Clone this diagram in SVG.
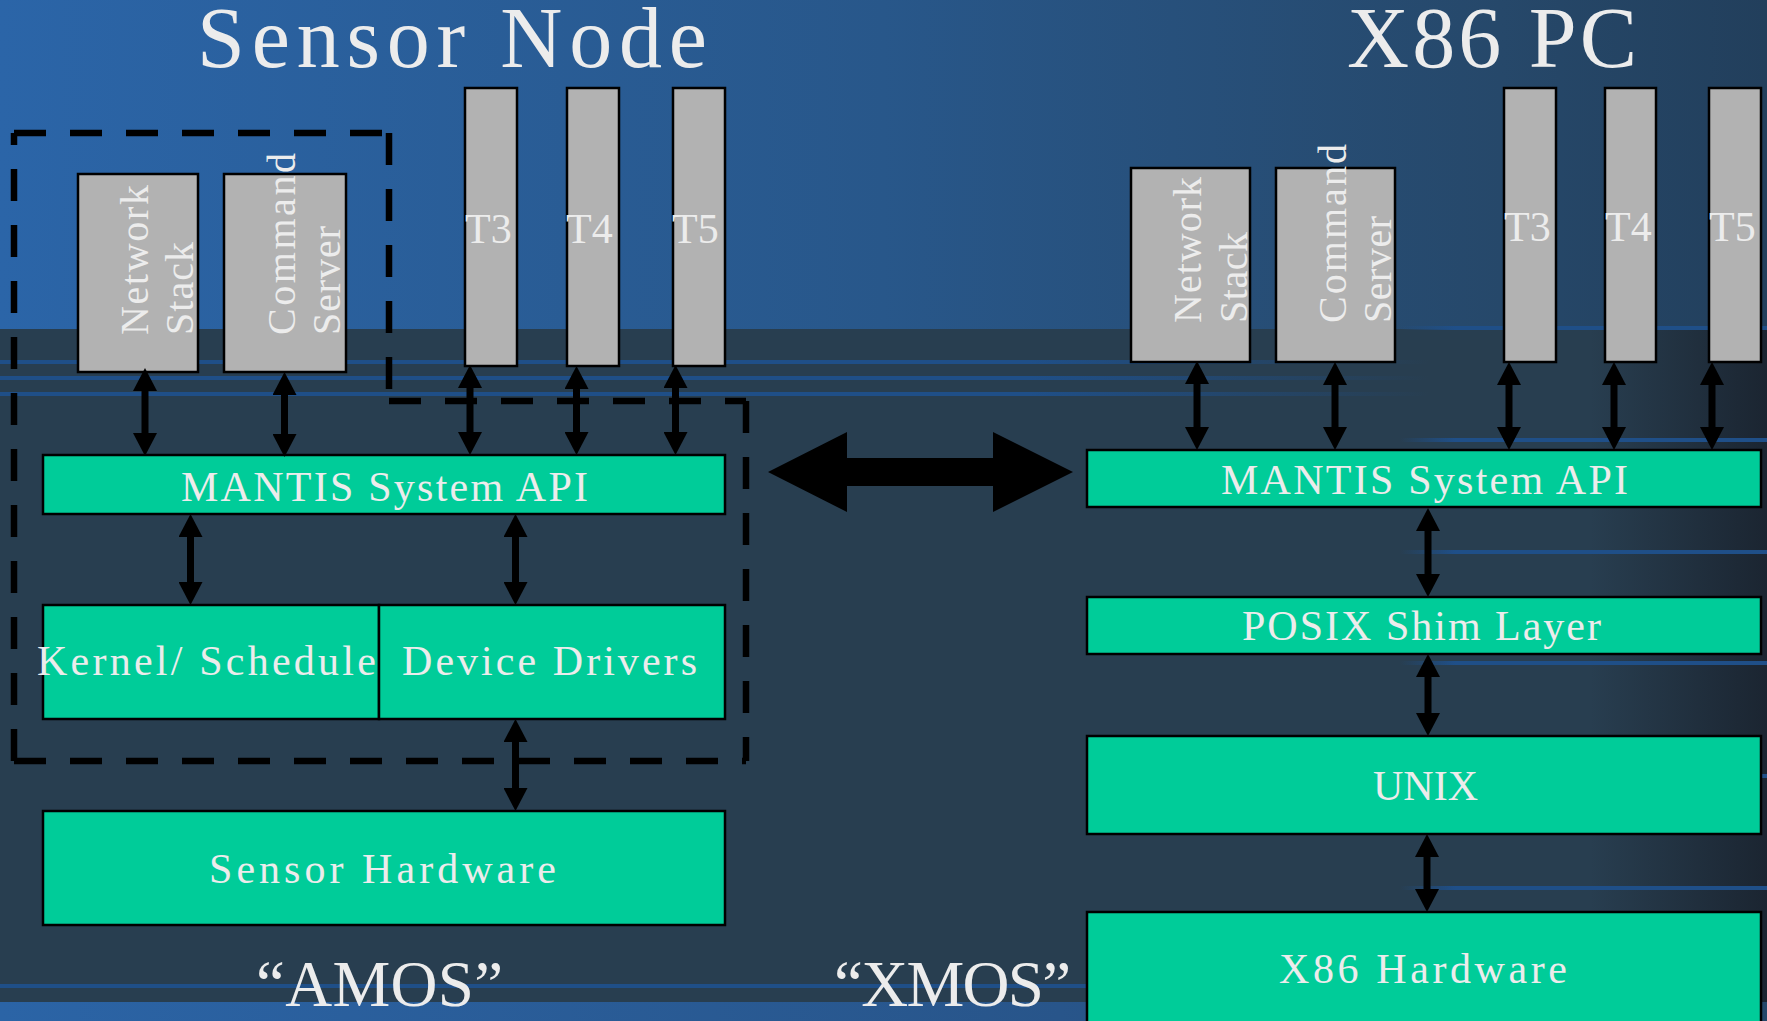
<svg xmlns="http://www.w3.org/2000/svg" width="1767" height="1021" viewBox="0 0 1767 1021">
<defs>
<linearGradient id="gTop" x1="0" y1="0" x2="1767" y2="0" gradientUnits="userSpaceOnUse">
<stop offset="0" stop-color="#2b65a8"/>
<stop offset="0.5" stop-color="#28578a"/>
<stop offset="0.85" stop-color="#26486a"/>
<stop offset="1" stop-color="#223f5c"/>
</linearGradient>
<linearGradient id="gLow" x1="0" y1="0" x2="1767" y2="0" gradientUnits="userSpaceOnUse">
<stop offset="0" stop-color="#283e50"/>
<stop offset="0.9" stop-color="#283e50"/>
<stop offset="1" stop-color="#1b2531"/>
</linearGradient>
<linearGradient id="gBand" x1="0" y1="0" x2="1767" y2="0" gradientUnits="userSpaceOnUse">
<stop offset="0" stop-color="#2b64a6"/>
<stop offset="0.6" stop-color="#28558a"/>
<stop offset="1" stop-color="#25476a"/>
</linearGradient>
<linearGradient id="gLineL" x1="0" y1="0" x2="1430" y2="0" gradientUnits="userSpaceOnUse">
<stop offset="0" stop-color="#1f4f88"/>
<stop offset="0.72" stop-color="#1f4f88"/>
<stop offset="1" stop-color="#1f4f88" stop-opacity="0"/>
</linearGradient>
<linearGradient id="gLineR" x1="1400" y1="0" x2="1767" y2="0" gradientUnits="userSpaceOnUse">
<stop offset="0" stop-color="#1f4f88" stop-opacity="0"/>
<stop offset="0.15" stop-color="#1f4f88"/>
<stop offset="1" stop-color="#1f4f88"/>
</linearGradient>
<marker id="ah" markerUnits="userSpaceOnUse" markerWidth="24" markerHeight="24" refX="0" refY="12" orient="auto-start-reverse" viewBox="0 0 24 24">
<path d="M0,0 L23,12 L0,24 Z" fill="#000"/>
</marker>
<style>
.t{font-family:"Liberation Serif","Times New Roman",serif;fill:#ececec;}
.gray{fill:#b2b2b2;stroke:#000;stroke-width:2.5;}
.teal{fill:#00cc99;stroke:#000;stroke-width:2.5;}
.dash{stroke:#000;stroke-width:6.5;stroke-dasharray:32 24;fill:none;}
.conn{stroke:#000;stroke-width:7;fill:none;marker-start:url(#ah);marker-end:url(#ah);}
.bl{fill:url(#gLineL);}
.br{fill:url(#gLineR);}
</style>
</defs>

<g id="background">
<rect x="0" y="0" width="1767" height="1021" fill="url(#gTop)"/>
<rect x="0" y="329" width="1767" height="674" fill="url(#gLow)"/>
<rect x="0" y="1002" width="1767" height="19" fill="url(#gBand)"/>
<rect class="bl" x="0" y="360" width="1430" height="4"/>
<rect class="bl" x="0" y="376" width="1430" height="4"/>
<rect class="bl" x="0" y="392" width="1430" height="4"/>
<rect x="0" y="984" width="1100" height="4" fill="#1f4f88"/>
<rect class="br" x="1400" y="326" width="367" height="4"/>
<rect class="br" x="1400" y="438" width="367" height="4"/>
<rect class="br" x="1400" y="550" width="367" height="4"/>
<rect class="br" x="1400" y="661" width="367" height="4"/>
<rect class="br" x="1400" y="774" width="367" height="4"/>
<rect class="br" x="1400" y="886" width="367" height="4"/>
</g>

<g id="title-sensor-node"><text class="t" x="197" y="67" font-size="86" textLength="510" lengthAdjust="spacing">Sensor Node</text></g>
<g id="title-x86-pc"><text class="t" x="1347" y="67" font-size="86" textLength="290" lengthAdjust="spacing">X86 PC</text></g>

<g id="amos-boundary">
<line class="dash" x1="14" y1="761" x2="14" y2="133"/>
<line class="dash" x1="14" y1="133" x2="389" y2="133"/>
<line class="dash" x1="389" y1="133" x2="389" y2="401"/>
<line class="dash" x1="389" y1="401" x2="746" y2="401"/>
<line class="dash" x1="746" y1="401" x2="746" y2="761"/>
<line class="dash" x1="14" y1="761" x2="746" y2="761"/>
</g>

<!-- Sensor node side -->
<g id="sn-network-stack">
<rect class="gray" x="78" y="174" width="120" height="198"/>
<text class="t" font-size="40" transform="translate(148,335) rotate(-90)" textLength="150" lengthAdjust="spacing">Network</text>
<text class="t" font-size="40" transform="translate(193,335) rotate(-90)" textLength="93" lengthAdjust="spacing">Stack</text>
</g>
<g id="sn-command-server">
<rect class="gray" x="224" y="174" width="122" height="198"/>
<text class="t" font-size="40" transform="translate(295,335) rotate(-90)" textLength="182" lengthAdjust="spacing">Command</text>
<text class="t" font-size="40" transform="translate(340,335) rotate(-90)" textLength="109" lengthAdjust="spacing">Server</text>
</g>
<g id="sn-t3">
<rect class="gray" x="465" y="88" width="52" height="278"/>
<text class="t" x="465" y="243" font-size="42">T3</text>
</g>
<g id="sn-t4">
<rect class="gray" x="567" y="88" width="52" height="278"/>
<text class="t" x="566" y="243" font-size="42">T4</text>
</g>
<g id="sn-t5">
<rect class="gray" x="673" y="88" width="52" height="278"/>
<text class="t" x="672" y="243" font-size="42">T5</text>
</g>
<g id="sn-mantis-api">
<rect class="teal" x="43" y="455" width="682" height="59"/>
<text class="t" x="181" y="501" font-size="42" textLength="407" lengthAdjust="spacing">MANTIS System API</text>
</g>
<g id="sn-kernel-scheduler">
<rect class="teal" x="43" y="605" width="336" height="114"/>
<text class="t" x="37" y="675" font-size="42" textLength="356" lengthAdjust="spacing">Kernel/ Scheduler</text>
</g>
<g id="sn-device-drivers">
<rect class="teal" x="379" y="605" width="346" height="114"/>
<text class="t" x="402" y="675" font-size="42" textLength="295" lengthAdjust="spacing">Device Drivers</text>
</g>
<g id="sn-sensor-hardware">
<rect class="teal" x="43" y="811" width="682" height="114"/>
<text class="t" x="209" y="883" font-size="42" textLength="347" lengthAdjust="spacing">Sensor Hardware</text>
</g>
<g id="label-amos"><text class="t" x="256" y="1006" font-size="65" textLength="247" lengthAdjust="spacing">“AMOS”</text></g>

<!-- X86 side -->
<g id="pc-network-stack">
<rect class="gray" x="1131" y="168" width="119" height="194"/>
<text class="t" font-size="40" transform="translate(1201,323) rotate(-90)" textLength="146" lengthAdjust="spacing">Network</text>
<text class="t" font-size="40" transform="translate(1247,323) rotate(-90)" textLength="91" lengthAdjust="spacing">Stack</text>
</g>
<g id="pc-command-server">
<rect class="gray" x="1276" y="168" width="119" height="194"/>
<text class="t" font-size="40" transform="translate(1346,323) rotate(-90)" textLength="179" lengthAdjust="spacing">Command</text>
<text class="t" font-size="40" transform="translate(1391,323) rotate(-90)" textLength="107" lengthAdjust="spacing">Server</text>
</g>
<g id="pc-t3">
<rect class="gray" x="1504" y="88" width="52" height="274"/>
<text class="t" x="1504" y="241" font-size="42">T3</text>
</g>
<g id="pc-t4">
<rect class="gray" x="1605" y="88" width="51" height="274"/>
<text class="t" x="1605" y="241" font-size="42">T4</text>
</g>
<g id="pc-t5">
<rect class="gray" x="1709" y="88" width="52" height="274"/>
<text class="t" x="1709" y="241" font-size="42">T5</text>
</g>
<g id="pc-mantis-api">
<rect class="teal" x="1087" y="450" width="674" height="57"/>
<text class="t" x="1221" y="494" font-size="42" textLength="407" lengthAdjust="spacing">MANTIS System API</text>
</g>
<g id="pc-posix-shim">
<rect class="teal" x="1087" y="597" width="674" height="57"/>
<text class="t" x="1242" y="640" font-size="42" textLength="359" lengthAdjust="spacing">POSIX Shim Layer</text>
</g>
<g id="pc-unix">
<rect class="teal" x="1087" y="736" width="674" height="98"/>
<text class="t" x="1373" y="800" font-size="42" textLength="105" lengthAdjust="spacing">UNIX</text>
</g>
<g id="pc-x86-hardware">
<rect class="teal" x="1087" y="912" width="674" height="115"/>
<text class="t" x="1279" y="983" font-size="42" textLength="288" lengthAdjust="spacing">X86 Hardware</text>
</g>
<g id="label-xmos"><text class="t" x="834" y="1006" font-size="65" textLength="237" lengthAdjust="spacing">“XMOS”</text></g>

<g id="connectors">
<line class="conn" x1="145" y1="391" x2="145" y2="433"/>
<line class="conn" x1="284.5" y1="395" x2="284.5" y2="434"/>
<line class="conn" x1="470" y1="388" x2="470" y2="432"/>
<line class="conn" x1="576.5" y1="389" x2="576.5" y2="432"/>
<line class="conn" x1="675.5" y1="388" x2="675.5" y2="432"/>
<line class="conn" x1="190.5" y1="537" x2="190.5" y2="582"/>
<line class="conn" x1="515.5" y1="537" x2="515.5" y2="582"/>
<line class="conn" x1="515.5" y1="742" x2="515.5" y2="788"/>
<line class="conn" x1="1197" y1="384" x2="1197" y2="427"/>
<line class="conn" x1="1335" y1="385" x2="1335" y2="427"/>
<line class="conn" x1="1509" y1="385" x2="1509" y2="427"/>
<line class="conn" x1="1614" y1="385" x2="1614" y2="427"/>
<line class="conn" x1="1712" y1="385" x2="1712" y2="427"/>
<line class="conn" x1="1428" y1="531" x2="1428" y2="574"/>
<line class="conn" x1="1428" y1="677" x2="1428" y2="713"/>
<line class="conn" x1="1427" y1="857" x2="1427" y2="889"/>
<polygon id="amos-xmos-link" points="768,472 847,432 847,458 993,458 993,432 1073,472 993,512 993,486 847,486 847,512" fill="#000"/>
</g>
</svg>
